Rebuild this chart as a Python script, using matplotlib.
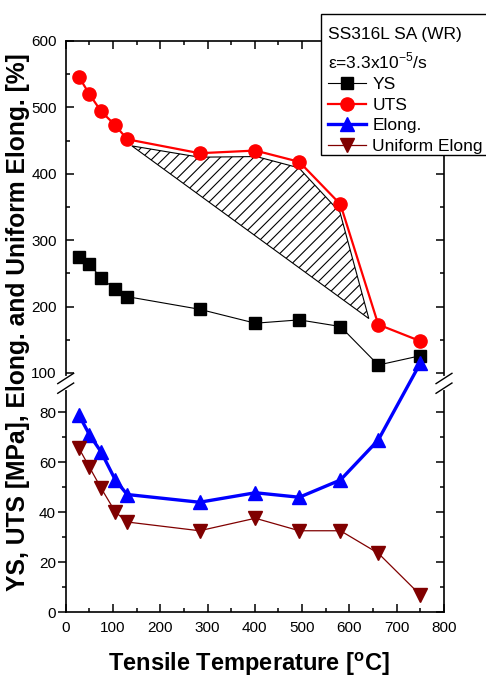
import numpy as np
import matplotlib
matplotlib.use("Agg")
import matplotlib.pyplot as plt
from matplotlib.patches import Rectangle
from matplotlib.ticker import FixedLocator

plt.rcParams['font.family'] = ['Liberation Sans', 'DejaVu Sans']
plt.rcParams['mathtext.fontset'] = 'custom'
plt.rcParams['mathtext.rm'] = 'Liberation Sans'
plt.rcParams['mathtext.bf'] = 'Liberation Sans:bold'
plt.rcParams['hatch.linewidth'] = 0.8

temp = [28, 50, 75, 105, 130, 283, 401, 494, 581, 661, 750]
ys = [274, 264, 243, 226, 215, 196, 175, 180, 170, 112, 126]
uts = [546, 520, 494, 473, 452, 431, 435, 418, 354, 173, 148]
elong = [78.8, 71, 64, 52.8, 47, 43.9, 47.7, 45.9, 52.8, 68.8, 115]
uelong = [65.5, 58, 49.5, 40, 36, 32.5, 37.5, 32.5, 32.5, 23.5, 6.8]

# hatched band under the UTS curve
band_t = [140, 283, 403, 493, 580, 641]
band_v = [442, 425, 426, 409, 342, 182]

x_ticks = list(range(0, 801, 100))
lo_major = [0, 20, 40, 60, 80]
lo_minor = [10, 30, 50, 70]
hi_major = [100, 200, 300, 400, 500, 600]
hi_minor = [150, 250, 350, 450, 550]

# broken y axis: 0-88 stretched, 100-600 compressed
brk_val = [0, 88, 100, 600]
brk_pos = [0, 220, 239, 571]


def fwd(y):
    return np.interp(y, brk_val, brk_pos)


def inv(p):
    return np.interp(p, brk_pos, brk_val)


fig = plt.figure(figsize=(4.86, 6.77), dpi=100)
rect = [65.7 / 486, 65 / 677, 378.3 / 486, 571 / 677]
ax = fig.add_axes(rect, label='main')

ax.fill(band_t, band_v, facecolor='white', edgecolor='black', hatch='///',
        linewidth=0.8, zorder=1)
ax.plot(temp, ys, color='black', lw=0.8, marker='s', ms=8.5, label='YS', zorder=3)
ax.plot(temp, uts, color='red', lw=1.6, marker='o', ms=9.5, label='UTS', zorder=3)
ax.plot(temp, elong, color='blue', lw=2.4, marker='^', ms=10, label='Elong.', zorder=3)
ax.plot(temp, uelong, color='#800000', lw=0.9, marker='v', ms=10,
        label='Uniform Elong', zorder=3)

ax.set_yscale('function', functions=(fwd, inv))
ax.set_ylim(0, 600)
ax.set_xlim(0, 800)
ax.set_xticks(x_ticks)
ax.xaxis.set_minor_locator(FixedLocator(list(range(50, 800, 100))))
ax.yaxis.set_major_locator(FixedLocator(lo_major + hi_major))
ax.yaxis.set_minor_locator(FixedLocator(lo_minor + hi_minor))
ax.tick_params(axis='x', which='both', direction='in', top=True, labelsize=11, pad=6.5)
ax.tick_params(axis='both', which='major', length=5.5, width=1.1)
ax.tick_params(axis='both', which='minor', length=3, width=1.1)
ax.tick_params(axis='y', which='both', direction='in', left=False, right=True,
               labelleft=False)
for s in ax.spines.values():
    s.set_linewidth(1.2)

# left ticks: upper part inward, lower part outward
for name, maj, mnr, d, pd in [('hi', hi_major, hi_minor, 'in', 6.5),
                              ('lo', lo_major, lo_minor, 'out', 1.5)]:
    a = fig.add_axes(rect, label=name)
    a.set_yscale('function', functions=(fwd, inv))
    a.set_ylim(0, 600)
    a.patch.set_visible(False)
    a.xaxis.set_visible(False)
    for s in a.spines.values():
        s.set_visible(False)
    a.yaxis.set_major_locator(FixedLocator(maj))
    a.yaxis.set_minor_locator(FixedLocator(mnr))
    a.tick_params(axis='y', which='both', direction=d, width=1.1, labelsize=11, pad=pd)
    a.tick_params(axis='y', which='major', length=5.5)
    a.tick_params(axis='y', which='minor', length=3)

# break marks
for xs in (0, 1):
    ax.plot([xs, xs], [0.392, 0.409], color='white', lw=3, transform=ax.transAxes,
            clip_on=False, zorder=5)
    for yc in (0.392, 0.409):
        ax.plot([xs - 0.021, xs + 0.021], [yc - 0.009, yc + 0.009], color='black',
                lw=1.0, transform=ax.transAxes, clip_on=False, zorder=6)

ax.set_xlabel(r'Tensile Temperature [$^{\mathbf{o}}$C]', fontsize=17, fontweight='bold')
ax.xaxis.set_label_coords(0.485, -0.066)
ax.yaxis.set_label_position('left')
ax.set_ylabel('YS, UTS [MPa], Elong. and Uniform Elong. [%]', fontsize=17.7,
              fontweight='bold')
ax.yaxis.set_label_coords(-0.094, 0.508)

# legend box runs past the right edge of the figure
ax.add_patch(Rectangle((321 / 486, 1 - 155 / 677), 200 / 486, 141 / 677,
                       transform=fig.transFigure, facecolor='white',
                       edgecolor='black', lw=1.0, zorder=7, clip_on=False))
leg = ax.legend(loc='upper left', bbox_to_anchor=(321 / 486, 1 - 20 / 677),
                bbox_transform=fig.transFigure, borderaxespad=0, frameon=False,
                fontsize=12.5, title_fontsize=12.5,
                title='SS316L SA (WR)\n' + r'ε=3.3x10$^{-5}$/s',
                alignment='left', handlelength=2.2, handletextpad=0.35,
                labelspacing=0.32, borderpad=0.4)
leg.set_zorder(8)
leg.get_title().set_linespacing(1.5)

fig.savefig('out.png', dpi=100)
